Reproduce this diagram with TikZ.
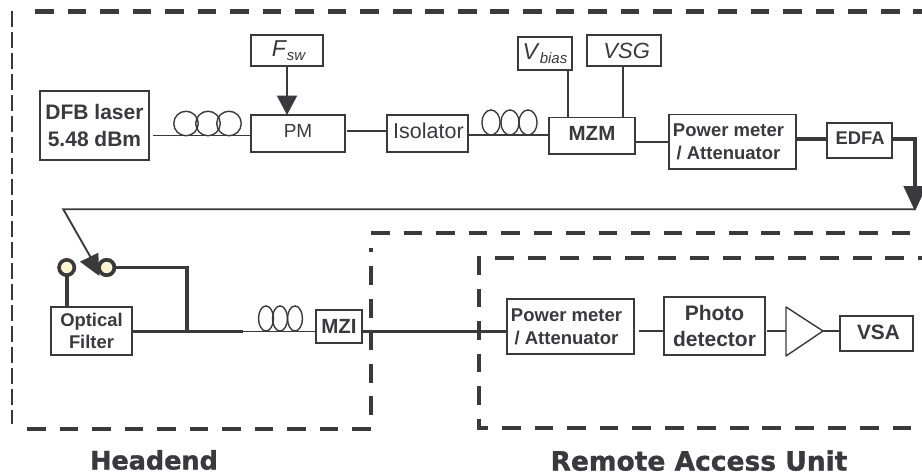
\documentclass[tikz,border=0pt]{standalone}
\usepackage{fontspec}
\setmainfont{Liberation Sans}
\newfontfamily\headfont{DejaVu Sans Bold}[FakeBold=1.2]
\usetikzlibrary{arrows.meta,calc}
\definecolor{ink}{HTML}{3A3A3C}
\definecolor{contact}{HTML}{FBF6CF}
\newcommand{\fs}[1]{\fontsize{\fpeval{#1*0.75}}{\fpeval{#1*0.93}}\selectfont}
\newcommand{\bx}[6]{\node[boxn,minimum width={(#4-#2)*0.75pt},minimum height={(#5-#3)*0.75pt}] (#1) at ({(#2+#4)/2},{(#3+#5)/2}) {#6};}
\tikzset{
  boxn/.style={draw=ink,line width=1.2pt,fill=white,inner sep=0pt,outer sep=0pt,align=center,text=ink},
  thinw/.style={draw=ink,line width=1.05pt},
  midw/.style={draw=ink,line width=1.5pt},
  thickw/.style={draw=ink,line width=2.9pt},
  coil/.style={draw=ink,line width=1.05pt},
  bigdash/.style={draw=ink,line width=3.1pt,dash pattern=on 14pt off 10.4pt},
  thindash/.style={draw=ink,line width=1.1pt,dash pattern=on 12pt off 3.75pt},
  sw/.style={circle,draw=ink,line width=2.7pt,fill=contact,minimum size=11.5pt,inner sep=0pt,outer sep=0pt},
  heading/.style={text=ink,inner sep=0pt,anchor=base},
}
\begin{document}
\begin{tikzpicture}[x=0.75pt,y=-0.75pt]
\useasboundingbox (0,0) rectangle (922,475);
% dashed enclosures
\draw[thindash] (12,11) -- (12,424);
\draw[bigdash] (35,11.5) -- (922,11.5);
\draw[bigdash] (371,233) -- (922,233);
\draw[bigdash] (27,429) -- (371,429) -- (371,248);
\draw[bigdash] (495,258) -- (922,258);
\draw[bigdash] (479,256) -- (479,428) -- (922,428);
% boxes
\bx{dfb}{40}{91}{149}{160}{\raisebox{2pt}{\parbox{80pt}{\centering\bfseries\fs{21}DFB laser\\5.48 dBm}}}
\bx{fsw}{251}{35}{323}{66}{\hspace*{3pt}\fs{23}\textit{F}\raisebox{-2.5pt}{\fs{15}\textit{sw}}}
\bx{pm}{251}{115}{345}{152}{\raisebox{3.5pt}{\fs{19}PM}}
\bx{iso}{387}{115}{468}{152}{\raisebox{3.5pt}{\hspace*{1.5pt}\fs{21.5}Isolator}}
\bx{mzm}{549}{117.5}{635}{154}{\raisebox{3.3pt}{\bfseries\fs{20.5}MZM}}
\bx{vbias}{518}{37}{572}{70}{\fs{23}\textit{V}\raisebox{-2.5pt}{\fs{15}\textit{bias}}}
\bx{vsg}{587}{35}{661}{66}{\hspace*{4pt}\fs{22}\textit{VSG}}
\bx{pma}{669}{114.5}{796}{169}{\raisebox{3.2pt}{\hspace*{-6pt}\parbox{90pt}{\centering\bfseries\fs{18.5}Power meter\\/ Attenuator}}}
\bx{edfa}{827}{123}{892}{158}{\raisebox{3pt}{\hspace*{1pt}\bfseries\fs{18.4}EDFA}}
\bx{filter}{51}{307}{132}{355}{\parbox{58pt}{\centering\bfseries\fs{18.4}Optical\\Filter}}
\bx{mzi}{316}{310}{362}{343}{\raisebox{0.8pt}{\bfseries\fs{20.5}MZI}}
\bx{pmb}{507}{299}{634}{354}{\raisebox{3pt}{\hspace*{-6pt}\parbox{90pt}{\centering\bfseries\fs{18.5}Power meter\\/ Attenuator}}}
\bx{photo}{664}{297}{765}{355}{\raisebox{1.2pt}{\parbox{72pt}{\centering\bfseries\fs{21}Photo\\detector}}}
\bx{vsa}{840}{316}{913}{351}{\raisebox{2.6pt}{\hspace*{3pt}\bfseries\fs{20.8}VSA}}
% amplifier
\coordinate (ampa) at (786,307);
\coordinate (ampb) at (786,356);
\coordinate (amptip) at (823,331);
\draw[thinw,line join=round,fill=white] (ampa) -- (amptip) -- (ampb) -- cycle;
% switch contacts
\node[sw] (swl) at (66.7,267.5) {};
\node[sw] (swr) at (106.7,267.5) {};
% connectors
\coordinate (c1) at (153,135.7);
\draw[thinw] (c1) -- (c1 -| pm.west);
\foreach \cx in {186,208,229} \draw[coil] (\cx,123.5) circle [radius=9.2pt];
\draw[midw,-{Triangle[length=14.6pt,width=15pt]}] (287,66) -- (287,115);
\coordinate (c2) at (347,131);
\draw[thinw] (c2) -- (c2 -| iso.west);
\coordinate (c3) at (468,135);
\draw[thinw] (c3) -- (c3 -| mzm.west);
\foreach \cx in {491,510,528} \draw[coil] (\cx,122.5) ellipse [x radius=6.8pt,y radius=9.4pt];
\draw[midw] (567.5,70) -- (567.5,117.5);
\draw[midw] (623,66) -- (623,117.5);
\coordinate (c4) at (635,142);
\draw[thinw] (c4) -- (c4 -| pma.west);
\coordinate (c5) at (796,139);
\draw[thickw] (c5) -- (c5 -| edfa.west);
\coordinate (c6) at (892,139);
\coordinate (c7) at (915,139);
\coordinate (c8) at (915,211);
\draw[draw=ink,line width=2.7pt] (c6) -- (c7) -- (915,190);
\fill[ink] (903.3,186) -- (926.7,186) -- (c8) -- cycle;
\coordinate (fb) at (63.3,209.3);
\coordinate (fbe) at (90.5,257);
\draw[draw=ink,line width=1.4pt] (c8 |- fb) -- (fb) -- (fbe);
\fill[ink] (80,261.7) -- (98.3,252.7) -- (99.3,276) -- cycle;
\node[sw] at (106.7,267.5) {};
\draw[thickw] (swr.east) -- (187,267.5) -- (187,331.5);
\draw[thickw] (swl.south) -- (swl.south |- filter.north);
\coordinate (c9) at (243,331.5);
\draw[thickw] (filter.east |- c9) -- (c9);
\draw[thinw] (c9) -- (c9 -| mzi.west);
\foreach \cx in {266,280,295} \draw[coil] (\cx,318.5) ellipse [x radius=5.6pt,y radius=9.4pt];
\coordinate (c10) at (362,331.5);
\draw[thickw] (c10) -- (c10 -| pmb.west);
\coordinate (c11) at (639,331);
\draw[thinw] (c11) -- (c11 -| photo.west);
\coordinate (c12) at (767,331);
\draw[thinw] (c12) -- (c12 -| ampa);
\draw[thinw] (amptip) -- (amptip -| vsa.west);
% headings
\node[heading,font=\headfont\fs{25.5}] (hhead) at (154,469.5) {Headend};
\node[heading,font=\headfont\fs{26.5}] (hrau) at (699,470.5) {Remote Access Unit};
\end{tikzpicture}
\end{document}
